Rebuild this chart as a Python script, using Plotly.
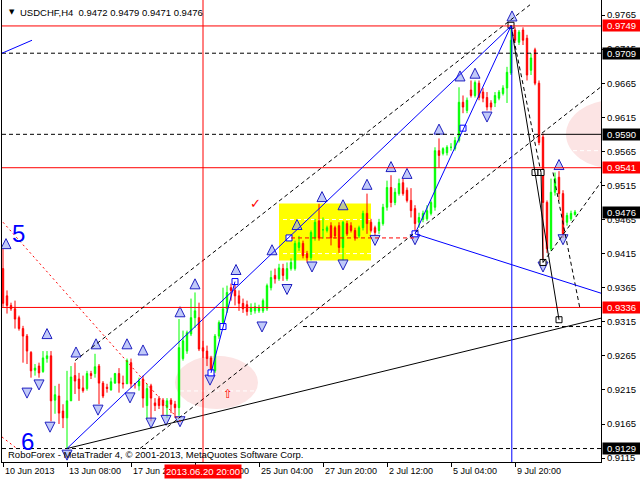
import plotly.graph_objects as go

# ---------------- data (USDCHF H4, bar index 0 = first visible bar) ----------------
opens = [0.9393,0.9353,0.9339,0.9334,0.9321,0.9305,0.9294,0.9270,0.9244,0.9250,
         0.9242,0.9261,0.9265,0.9200,0.9206,0.9184,0.9174,0.9199,0.9236,0.9231,
         0.9218,0.9217,0.9239,0.9239,0.9250,0.9225,0.9219,0.9215,0.9225,0.9239,
         0.9225,0.9224,0.9255,0.9224,0.9221,0.9231,0.9192,0.9221,0.9196,0.9202,
         0.9200,0.9189,0.9200,0.9194,0.9189,0.9261,0.9272,0.9297,0.9321,0.9321,
         0.9277,0.9272,0.9262,0.9243,0.9294,0.9314,0.9334,0.9365,0.9361,0.9353,
         0.9342,0.9340,0.9330,0.9331,0.9331,0.9331,0.9334,0.9365,0.9383,0.9378,
         0.9393,0.9378,0.9393,0.9393,0.9424,0.9430,0.9415,0.9409,0.9438,0.9463,
         0.9450,0.9449,0.9456,0.9453,0.9456,0.9424,0.9459,0.9456,0.9449,0.9441,
         0.9453,0.9474,0.9461,0.9453,0.9449,0.9459,0.9483,0.9512,0.9490,0.9503,
         0.9519,0.9508,0.9493,0.9481,0.9461,0.9465,0.9466,0.9474,0.9483,0.9566,
         0.9562,0.9563,0.9571,0.9569,0.9581,0.9637,0.9625,0.9655,0.9647,0.9665,
         0.9652,0.9644,0.9636,0.9636,0.9643,0.9650,0.9658,0.9680,0.9743,0.9725,
         0.9743,0.9731,0.9684,0.9714,0.9665,0.9586,0.9490,0.9422,0.9505,0.9527,
         0.9503,0.9461,0.9466,0.9472]
highs = [0.9422,0.9361,0.9343,0.9346,0.9324,0.9309,0.9297,0.9272,0.9253,0.9255,
         0.9272,0.9272,0.9272,0.9221,0.9224,0.9194,0.9243,0.9250,0.9255,0.9240,
         0.9236,0.9243,0.9243,0.9268,0.9253,0.9228,0.9224,0.9233,0.9240,0.9247,
         0.9236,0.9261,0.9261,0.9225,0.9233,0.9236,0.9224,0.9224,0.9203,0.9206,
         0.9203,0.9203,0.9203,0.9199,0.9319,0.9302,0.9302,0.9349,0.9358,0.9343,
         0.9287,0.9280,0.9265,0.9297,0.9317,0.9365,0.9368,0.9371,0.9378,0.9361,
         0.9349,0.9346,0.9342,0.9343,0.9340,0.9349,0.9371,0.9390,0.9393,0.9400,
         0.9400,0.9402,0.9408,0.9434,0.9441,0.9434,0.9419,0.9449,0.9466,0.9488,
         0.9468,0.9456,0.9461,0.9456,0.9461,0.9463,0.9463,0.9461,0.9453,0.9456,
         0.9478,0.9503,0.9466,0.9456,0.9466,0.9488,0.9522,0.9530,0.9511,0.9525,
         0.9525,0.9512,0.9511,0.9486,0.9475,0.9478,0.9486,0.9493,0.9571,0.9584,
         0.9571,0.9574,0.9577,0.9586,0.9659,0.9647,0.9644,0.9669,0.9669,0.9669,
         0.9658,0.9652,0.9640,0.9652,0.9655,0.9662,0.9689,0.9749,0.9747,0.9743,
         0.9747,0.9736,0.9709,0.9717,0.9669,0.9591,0.9493,0.9525,0.9534,0.9536,
         0.9508,0.9475,0.9478,0.9479]
lows = [0.9337,0.9327,0.9331,0.9305,0.9302,0.9255,0.9253,0.9233,0.9236,0.9233,
        0.9240,0.9255,0.9169,0.9180,0.9165,0.9159,0.9129,0.9199,0.9209,0.9199,
        0.9211,0.9214,0.9231,0.9233,0.9194,0.9203,0.9211,0.9214,0.9224,0.9211,
        0.9217,0.9224,0.9218,0.9217,0.9214,0.9189,0.9172,0.9169,0.9184,0.9187,
        0.9177,0.9174,0.9181,0.9174,0.9177,0.9258,0.9268,0.9294,0.9306,0.9272,
        0.9262,0.9250,0.9240,0.9240,0.9290,0.9309,0.9328,0.9346,0.9339,0.9331,
        0.9328,0.9324,0.9325,0.9327,0.9328,0.9328,0.9331,0.9361,0.9371,0.9375,
        0.9375,0.9375,0.9390,0.9390,0.9419,0.9408,0.9402,0.9405,0.9434,0.9434,
        0.9437,0.9446,0.9427,0.9437,0.9416,0.9405,0.9441,0.9446,0.9434,0.9438,
        0.9449,0.9444,0.9446,0.9441,0.9444,0.9456,0.9478,0.9483,0.9486,0.9500,
        0.9500,0.9490,0.9468,0.9444,0.9453,0.9461,0.9463,0.9471,0.9478,0.9541,
        0.9559,0.9559,0.9566,0.9566,0.9578,0.9621,0.9621,0.9644,0.9644,0.9640,
        0.9637,0.9625,0.9625,0.9630,0.9640,0.9647,0.9636,0.9677,0.9724,0.9721,
        0.9721,0.9669,0.9677,0.9662,0.9574,0.9400,0.9416,0.9419,0.9500,0.9493,
        0.9438,0.9456,0.9463,0.9471]
closes = [0.9342,0.9339,0.9334,0.9319,0.9305,0.9294,0.9272,0.9243,0.9247,0.9240,
          0.9262,0.9265,0.9199,0.9208,0.9181,0.9174,0.9199,0.9234,0.9228,0.9217,
          0.9214,0.9239,0.9236,0.9249,0.9225,0.9206,0.9217,0.9227,0.9239,0.9225,
          0.9224,0.9258,0.9224,0.9224,0.9228,0.9203,0.9217,0.9203,0.9192,0.9192,
          0.9192,0.9199,0.9194,0.9189,0.9277,0.9287,0.9299,0.9321,0.9331,0.9275,
          0.9272,0.9261,0.9243,0.9294,0.9314,0.9334,0.9358,0.9361,0.9353,0.9342,
          0.9334,0.9330,0.9336,0.9337,0.9336,0.9346,0.9368,0.9380,0.9378,0.9394,
          0.9383,0.9393,0.9402,0.9430,0.9431,0.9412,0.9409,0.9446,0.9461,0.9438,
          0.9450,0.9453,0.9438,0.9441,0.9424,0.9461,0.9444,0.9449,0.9438,0.9453,
          0.9474,0.9459,0.9449,0.9446,0.9461,0.9483,0.9512,0.9490,0.9505,0.9518,
          0.9503,0.9493,0.9478,0.9459,0.9468,0.9474,0.9478,0.9490,0.9566,0.9559,
          0.9569,0.9571,0.9571,0.9581,0.9637,0.9630,0.9640,0.9647,0.9666,0.9644,
          0.9643,0.9630,0.9630,0.9647,0.9652,0.9658,0.9681,0.9728,0.9728,0.9740,
          0.9728,0.9677,0.9702,0.9665,0.9578,0.9490,0.9422,0.9505,0.9525,0.9503,
          0.9444,0.9471,0.9474,0.9476]
bars = list(range(len(opens)))

time_tick_idx = [0, 16, 32, 48, 64, 80, 96, 112, 128]
time_tick_labels = ["10 Jun 2013", "13 Jun 08:00", "17 Jun 20:00", "20 Jun 12:00",
                    "25 Jun 04:00", "27 Jun 20:00", "2 Jul 12:00", "5 Jul 04:00", "9 Jul 20:00"]
cursor_idx = 50
cursor_label = "2013.06.20 20:00"

price_ticks = [0.9765, 0.9715, 0.9665, 0.9615, 0.9565, 0.9515, 0.9465, 0.9415,
               0.9365, 0.9315, 0.9265, 0.9215, 0.9165, 0.9115]
red_levels = [0.9749, 0.9541, 0.9336]
black_levels = [0.9709, 0.9590, 0.9476, 0.9129]

# analysis objects (bar index, price)
up_arrow_idx = [0.75, 11, 18.25, 23.25, 31, 35, 44.25, 48, 58.25, 67.25, 73.5, 79.75,
                85, 91, 97, 101, 109, 114.25, 118, 127.25, 139]
up_arrow_price = [0.9437, 0.9305, 0.9278, 0.9290, 0.9290, 0.9281, 0.9337, 0.9378, 0.9399,
                  0.9428, 0.9465, 0.9506, 0.9494, 0.9524, 0.9550, 0.9540, 0.9605, 0.9683,
                  0.9687, 0.9771, 0.9553]
down_arrow_idx = [6, 9, 11.75, 16, 23.75, 31.75, 37, 40.75, 44.25, 51.75, 64.75, 71,
                  77.25, 85, 93, 103, 121, 135, 140]
down_arrow_price = [0.9203, 0.9215, 0.9153, 0.9112, 0.9178, 0.9196, 0.9159, 0.9163, 0.9161,
                    0.9222, 0.9300, 0.9355, 0.9388, 0.9391, 0.9427, 0.9428, 0.9608, 0.9388,
                    0.9428]
blue_pt_idx = [52, 55, 58, 71.5, 103, 115]
blue_pt_price = [0.9240, 0.9308, 0.9374, 0.9438, 0.9444, 0.9599]
black_pt_idx = [127, 133, 134.5, 135, 139]
black_pt_price = [0.9750, 0.9534, 0.9534, 0.9402, 0.9318]

blue_lines = [(16, 0.9129, 127, 0.9749), (52, 0.9240, 58, 0.9374), (103, 0.9444, 127, 0.9749),
              (103, 0.9444, 150, 0.9356), (-0.25, 0.9709, 7.25, 0.9728)]
black_lines = [(16, 0.9129, 150, 0.9321), (127, 0.9750, 139, 0.9318), (134.5, 0.9534, 135, 0.9402),
               (134.5, 0.9590, 149.5, 0.9590)]
black_dash_lines = [(18, 0.9258, 131.75, 0.9780), (34.25, 0.9129, 150, 0.9662),
                    (127, 0.9750, 134.5, 0.9534), (135, 0.9402, 150, 0.9524),
                    (137.5, 0.9534, 144.25, 0.9334),
                    (-0.25, 0.9709, 149.5, 0.9709), (-0.25, 0.9590, 134.5, 0.9590),
                    (-0.25, 0.9129, 149.5, 0.9129), (75, 0.9308, 149.5, 0.9308)]
red_dot_lines = [(0, 0.9461, 44.75, 0.9166), (-0.25, 0.9146, 3.25, 0.9130)]
red_dash_lines = [(72, 0.9438, 103, 0.9438)]
white_dash_lines = [(70, 0.9465, 92, 0.9465), (70, 0.9415, 92, 0.9415),
                    (44.25, 0.92135, 63.25, 0.92135), (142.5, 0.9566, 149.5, 0.9566)]
yellow_box = (69, 0.94885, 92, 0.94047)
pink_ellipses = [(43, 0.9265, 63.75, 0.9187), (140.75, 0.9640, 164.25, 0.9540)]
wave_labels = [("5", 3.9, 0.94451), ("6", 6.0, 0.91393)]

# ---------------- figure ----------------
X_MIN, X_MAX = -0.25, 149.5
Y_MIN, Y_MAX = 0.910926, 0.978706
PLOT_W, PLOT_H = 599, 462
FONT = "Liberation Sans"

def px(xp):
    return (xp - 2) / PLOT_W

def py(yp):
    return 1 - yp / PLOT_H

fig = go.Figure()
fig.add_trace(go.Candlestick(
    x=bars, open=opens, high=highs, low=lows, close=closes,
    increasing=dict(line=dict(color="#00ff00", width=1), fillcolor="#00ff00"),
    decreasing=dict(line=dict(color="#ff0000", width=1), fillcolor="#ff0000"),
    whiskerwidth=0, hoverinfo="skip", showlegend=False))

arrow_marker = dict(size=10, color="rgba(150,165,245,0.6)", line=dict(color="#2020c0", width=1))
fig.add_trace(go.Scatter(x=up_arrow_idx, y=up_arrow_price, mode="markers", hoverinfo="skip",
                         marker=dict(symbol="arrow-up", **arrow_marker)))
fig.add_trace(go.Scatter(x=down_arrow_idx, y=down_arrow_price, mode="markers", hoverinfo="skip",
                         marker=dict(symbol="arrow-down", **arrow_marker)))

shapes = []
shapes.append(dict(type="rect", xref="x", yref="y", x0=yellow_box[0], y0=yellow_box[1],
                   x1=yellow_box[2], y1=yellow_box[3], fillcolor="#ffff00",
                   line=dict(width=0), layer="below"))
for (a, b, c, d) in pink_ellipses:
    shapes.append(dict(type="circle", xref="x", yref="y", x0=a, y0=b, x1=c, y1=d,
                       fillcolor="rgb(252,228,228)", line=dict(width=0), layer="below"))
for (a, b, c, d) in white_dash_lines:
    shapes.append(dict(type="line", xref="x", yref="y", x0=a, y0=b, x1=c, y1=d,
                       line=dict(color="white", width=1, dash="4px,3px"), layer="below"))
for p in red_levels:
    shapes.append(dict(type="line", xref="paper", yref="y", x0=0, x1=1, y0=p, y1=p,
                       line=dict(color="#ff0000", width=1)))
for (a, b, c, d) in black_dash_lines:
    shapes.append(dict(type="line", xref="x", yref="y", x0=a, y0=b, x1=c, y1=d,
                       line=dict(color="black", width=1, dash="4px,3px")))
for (a, b, c, d) in black_lines:
    shapes.append(dict(type="line", xref="x", yref="y", x0=a, y0=b, x1=c, y1=d,
                       line=dict(color="black", width=1)))
for (a, b, c, d) in red_dot_lines:
    shapes.append(dict(type="line", xref="x", yref="y", x0=a, y0=b, x1=c, y1=d,
                       line=dict(color="#ff0000", width=1, dash="2px,3px")))
for (a, b, c, d) in red_dash_lines:
    shapes.append(dict(type="line", xref="x", yref="y", x0=a, y0=b, x1=c, y1=d,
                       line=dict(color="#ff0000", width=1, dash="4px,3px")))
for (a, b, c, d) in blue_lines:
    shapes.append(dict(type="line", xref="x", yref="y", x0=a, y0=b, x1=c, y1=d,
                       line=dict(color="#0000ff", width=1)))
shapes.append(dict(type="line", xref="x", yref="paper", x0=cursor_idx, x1=cursor_idx, y0=0, y1=1,
                   line=dict(color="#ff0000", width=1)))
shapes.append(dict(type="line", xref="x", yref="y", x0=127.2, x1=127.2, y0=0.9749, y1=Y_MIN,
                   line=dict(color="#0000ff", width=1)))
fig.update_layout(shapes=shapes)

fig.add_trace(go.Scatter(x=blue_pt_idx, y=blue_pt_price, mode="markers", hoverinfo="skip",
    marker=dict(symbol="square", size=6, color="white", line=dict(color="#0000ff", width=1))))
fig.add_trace(go.Scatter(x=black_pt_idx, y=black_pt_price, mode="markers", hoverinfo="skip",
    marker=dict(symbol="square", size=6, color="white", line=dict(color="black", width=1))))

ann = []
for (t, xi, p) in wave_labels:
    ann.append(dict(xref="x", yref="y", x=xi, y=p, text=t, showarrow=False,
                    font=dict(family=FONT, size=24, color="#0000ff")))
ann.append(dict(xref="x", yref="y", x=63, y=0.94885, text="✓", showarrow=False,
                font=dict(family="DejaVu Sans", size=13, color="#ff0000")))
ann.append(dict(xref="x", yref="y", x=56.25, y=0.9209, text="⇧", showarrow=False,
                font=dict(family="DejaVu Sans", size=12, color="#ff0000")))
ann.append(dict(xref="paper", yref="paper", x=px(7), y=py(12), xanchor="left", yanchor="middle",
                text="▼", showarrow=False, font=dict(family="DejaVu Sans", size=7, color="black")))
ann.append(dict(xref="paper", yref="paper", x=px(18), y=py(12), xanchor="left", yanchor="middle",
                text="USDCHF,H4\u00a0 0.9472 0.9479 0.9471 0.9476", showarrow=False,
                font=dict(family=FONT, size=9.5, color="black")))
ann.append(dict(xref="paper", yref="paper", x=px(6), y=py(454), xanchor="left", yanchor="middle",
                text="RoboForex - MetaTrader 4, © 2001-2013, MetaQuotes Software Corp.",
                showarrow=False, font=dict(family=FONT, size=9.5, color="black")))
for idx, lab in zip(time_tick_idx, time_tick_labels):
    ann.append(dict(xref="x", yref="paper", x=idx, y=py(471), xanchor="left", yanchor="middle",
                    text=lab, showarrow=False, font=dict(family=FONT, size=9, color="black")))
ann.append(dict(xref="x", yref="paper", x=cursor_idx, y=py(471), xanchor="center", yanchor="middle",
                text=cursor_label, showarrow=False, bgcolor="#ff0000", borderpad=1,
                font=dict(family=FONT, size=9.5, color="white")))
for p in black_levels:
    ann.append(dict(xref="paper", yref="y", x=1, y=p, xanchor="left", yanchor="middle", xshift=1,
                    text=f"{p:.4f}", showarrow=False, bgcolor="black", borderpad=0, width=37,
                    height=11, align="center", font=dict(family=FONT, size=9.5, color="white")))
for p in red_levels:
    ann.append(dict(xref="paper", yref="y", x=1, y=p, xanchor="left", yanchor="middle", xshift=1,
                    text=f"{p:.4f}", showarrow=False, bgcolor="#ff0000", borderpad=0, width=37,
                    height=11, align="center", font=dict(family=FONT, size=9.5, color="white")))

fig.update_layout(
    width=640, height=480, margin=dict(l=2, r=39, t=0, b=18, pad=0),
    paper_bgcolor="white", plot_bgcolor="white", showlegend=False, boxgap=0.5,
    annotations=ann,
    xaxis=dict(range=[X_MIN, X_MAX], showgrid=False, zeroline=False, showline=True,
               linecolor="black", linewidth=1, ticks="outside", ticklen=4, tickcolor="black",
               tickvals=time_tick_idx, showticklabels=False, rangeslider=dict(visible=False)),
    yaxis=dict(side="right", range=[Y_MIN, Y_MAX], showgrid=False, zeroline=False,
               showline=True, mirror=True, linecolor="black", linewidth=1, ticks="outside",
               ticklen=3, tickcolor="black", tickvals=price_ticks,
               ticktext=[f"{v:.4f}" for v in price_ticks],
               tickfont=dict(family=FONT, size=9.5, color="black")),
)

fig.write_html("out.html", config={"displayModeBar": False, "staticPlot": True},
               post_script="document.body.style.margin='0px';document.body.style.overflow='hidden';")
